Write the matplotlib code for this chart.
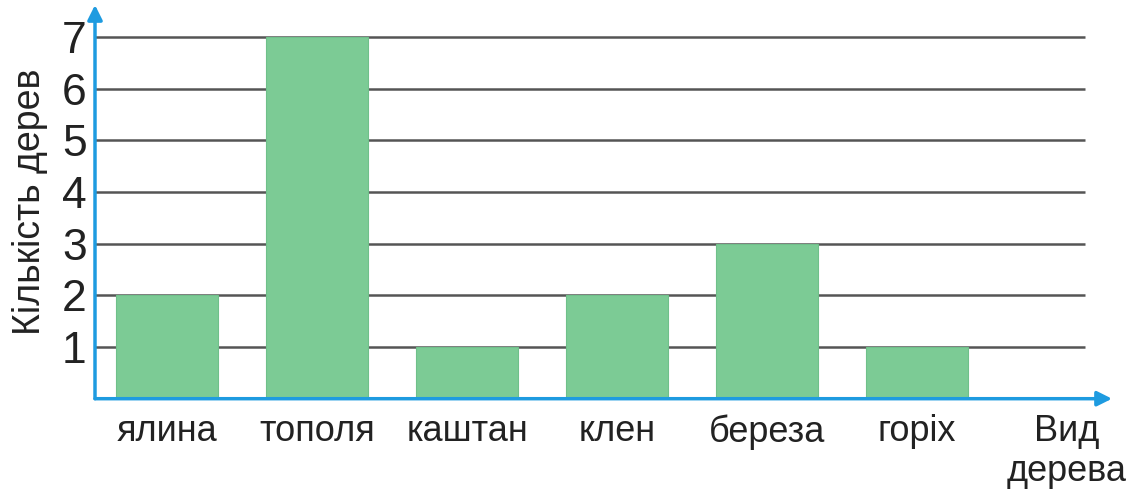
import matplotlib
matplotlib.use("Agg")
import matplotlib.pyplot as plt

categories = ["ялина", "тополя", "каштан", "клен", "береза", "горіх"]
counts = [2, 7, 1, 2, 3, 1]
y_ticks = [1, 2, 3, 4, 5, 6, 7]
x_axis_label = "Вид\nдерева"
y_axis_label = "Кількість дерев"

plt.rcParams['font.family'] = ['Liberation Sans', 'DejaVu Sans']

BAR = '#7ccb95'
BAR_EDGE = '#6fc08a'
GRID = '#555555'
AXIS = '#1e9be0'
TEXT = '#222222'

fig = plt.figure(figsize=(11.4, 4.95), dpi=100)
ax = fig.add_axes([95 / 1140, (495 - 398.7) / 495, (1112 - 95) / 1140, (398.7 - 5) / 495])
x0, x1 = -0.48, 6.30
ax.set_xlim(x0, x1)
ax.set_ylim(0, 7.62)
for s in ax.spines.values():
    s.set_visible(False)

ax.hlines(y_ticks, x0, 6.12, color=GRID, lw=1.8, zorder=1)
xs = list(range(len(categories)))
ax.bar(xs, counts, width=0.68, color=BAR, edgecolor=BAR_EDGE, linewidth=0.8, zorder=2)

ax.annotate('', xy=(x1, 0), xytext=(x0, 0), xycoords='data',
            arrowprops=dict(arrowstyle='-|>', color=AXIS, lw=2.5, mutation_scale=22,
                            shrinkA=0, shrinkB=0),
            annotation_clip=False, zorder=4)
ax.annotate('', xy=(x0, 7.62), xytext=(x0, 0), xycoords='data',
            arrowprops=dict(arrowstyle='-|>', color=AXIS, lw=2.5, mutation_scale=22,
                            shrinkA=0, shrinkB=0),
            annotation_clip=False, zorder=4)

ax.set_xticks(xs + [6.0])
ax.set_xticklabels(categories + [x_axis_label], fontsize=26, color=TEXT,
                   linespacing=1.2, va='top', ma='center')
ax.tick_params(axis='x', length=0, pad=11)
ax.set_yticks(y_ticks)
ax.set_yticklabels([str(v) for v in y_ticks], fontsize=32, color=TEXT)
ax.tick_params(axis='y', length=0, pad=6)

ax.set_ylabel(y_axis_label, fontsize=27, color=TEXT)
ax.yaxis.set_label_coords(-0.046, 0.5)

fig.savefig('out.png', dpi=100, facecolor='white')
